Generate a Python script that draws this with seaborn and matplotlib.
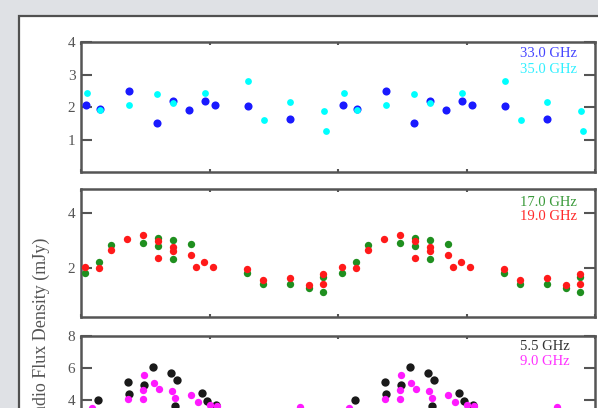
import pandas as pd
import matplotlib
matplotlib.use('Agg')
import matplotlib.pyplot as plt
from matplotlib.patches import Rectangle
import seaborn as sns

# orbital phase (one cycle) and flux density (mJy) per band; plotted over two cycles
phase_33 = [0.019, 0.074, 0.188, 0.297, 0.359, 0.421, 0.482, 0.521, 0.649, 0.814]
flux_33 = [2.06, 1.95, 2.50, 1.50, 2.20, 1.91, 2.17, 2.05, 2.04, 1.62]
phase_35 = [0.022, 0.074, 0.188, 0.297, 0.359, 0.482, 0.649, 0.711, 0.814, 0.946, 0.952]
flux_35 = [2.42, 1.92, 2.07, 2.39, 2.12, 2.42, 2.80, 1.60, 2.14, 1.88, 1.27]

phase_17 = [0.016, 0.071, 0.117, 0.242, 0.298, 0.298, 0.357, 0.357, 0.427, 0.647, 0.707, 0.813, 0.887, 0.940, 0.940]
flux_17 = [1.82, 2.22, 2.85, 2.93, 3.10, 2.82, 3.03, 2.34, 2.87, 1.82, 1.43, 1.43, 1.29, 1.67, 1.13]
phase_19 = [0.016, 0.071, 0.117, 0.178, 0.242, 0.298, 0.298, 0.357, 0.357, 0.427, 0.446, 0.480, 0.515,
            0.647, 0.707, 0.813, 0.887, 0.940, 0.940]
flux_19 = [2.05, 2.00, 2.65, 3.05, 3.21, 2.98, 2.36, 2.77, 2.64, 2.48, 2.05, 2.24, 2.04,
           1.96, 1.57, 1.66, 1.39, 1.79, 1.42]

phase_55 = [0.068, 0.181, 0.188, 0.245, 0.280, 0.352, 0.372, 0.366, 0.471, 0.489, 0.525]
flux_55 = [4.00, 5.14, 4.36, 4.94, 6.06, 5.71, 5.25, 3.60, 4.44, 3.95, 3.67]
phase_90 = [0.042, 0.184, 0.244, 0.242, 0.242, 0.284, 0.304, 0.353, 0.366, 0.428, 0.456, 0.500, 0.530, 0.852]
flux_90 = [3.50, 4.05, 5.54, 4.65, 4.06, 5.04, 4.70, 4.58, 4.10, 4.31, 3.88, 3.70, 3.60, 3.55]


def two_cycles(phase, flux, band):
    df = pd.DataFrame({'phase': phase, 'flux': flux, 'band': band})
    df2 = df.copy()
    df2['phase'] = df2['phase'] + 1
    return pd.concat([df, df2], ignore_index=True)


panels = [
    {'bands': [('33.0 GHz', phase_33, flux_33, '#1a1aff', 34, '#4545ff'),
               ('35.0 GHz', phase_35, flux_35, '#00ffff', 24, '#30f0ff')],
     'ylim': (0, 4), 'yticks': [1, 2, 3, 4], 'rect': [81 / 598, 1 - 172 / 408, 514 / 598, 130 / 408],
     'tx': 0.965, 'ty': [0.915, 0.785]},
    {'bands': [('17.0 GHz', phase_17, flux_17, '#1f8f1f', 28, '#3a9a3a'),
               ('19.0 GHz', phase_19, flux_19, '#ff1a1a', 28, '#ff2a2a')],
     'ylim': (0.23, 4.88), 'yticks': [2, 4], 'rect': [81 / 598, 1 - 317 / 408, 514 / 598, 128 / 408],
     'tx': 0.965, 'ty': [0.898, 0.789]},
    {'bands': [('5.5 GHz', phase_55, flux_55, '#1a1a1a', 36, '#333333'),
               ('9.0 GHz', phase_90, flux_90, '#ff1aff', 28, '#ff30ff')],
     'ylim': (0, 8), 'yticks': [2, 4, 6, 8], 'rect': [81 / 598, 1 - 464 / 408, 514 / 598, 128 / 408],
     'tx': 0.951, 'ty': [0.92, 0.80]},
]


def main():
    sns.set_theme(style='ticks')
    plt.rcParams['font.family'] = ['Liberation Serif', 'DejaVu Serif']

    fig = plt.figure(figsize=(5.98, 4.08), dpi=100, facecolor='#dfe1e5')
    # white page with a dark frame, cropped screenshot look
    fig.patches.append(Rectangle((19 / 598, -0.1), 1.1, 1.1 - 16 / 408, transform=fig.transFigure,
                                 facecolor='white', edgecolor='#505050', linewidth=1.6, zorder=-5))

    for p in panels:
        ax = fig.add_axes(p['rect'])
        ax.set_zorder(2)
        ax.set_facecolor('white')
        for i, (label, ph, fl, col, size, tcol) in enumerate(p['bands']):
            d = two_cycles(ph, fl, label)
            sns.scatterplot(data=d, x='phase', y='flux', color=col, s=size,
                            linewidth=0, ax=ax, legend=False, zorder=3 + i)
            ax.text(p['tx'], p['ty'][i], label, transform=ax.transAxes, ha='right', va='center',
                    color=tcol, fontsize=10.5)
        ax.set_xlim(0, 2)
        ax.set_ylim(*p['ylim'])
        ax.set_yticks(p['yticks'])
        ax.set_xticks([0, 0.5, 1, 1.5, 2])
        ax.set_xticklabels([])
        ax.set_xlabel('')
        ax.set_ylabel('')
        for s in ax.spines.values():
            s.set_color('#555555')
            s.set_linewidth(1.8)
        ax.tick_params(axis='y', direction='in', length=8, width=1.5, color='#555555',
                       right=True, labelsize=11, labelcolor='#555555', pad=4)
        ax.tick_params(axis='x', direction='in', length=2.5, width=1.5, color='#555555', top=True)

    fig.text(41 / 598, 1 - 331 / 408, 'Radio Flux Density (mJy)', rotation=90,
             ha='center', va='center', fontsize=13, color='#555555')

    plt.savefig('out.png', dpi=100, facecolor=fig.get_facecolor())


if __name__ == '__main__':
    main()
